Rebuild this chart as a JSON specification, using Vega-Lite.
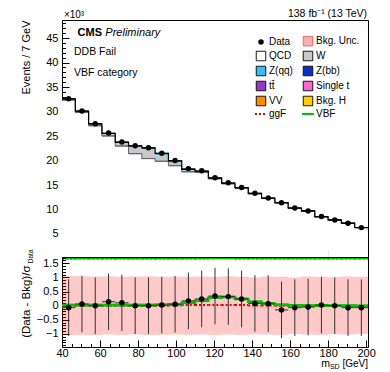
{
  "$schema": "https://vega.github.io/schema/vega-lite/v6.json",
  "autosize": {"type": "pad"},
  "padding": {"left": 19, "top": 8, "right": 5, "bottom": 0},
  "spacing": 0,
  "bounds": "flush",
  "config": {
    "font": "Liberation Sans",
    "view": {"stroke": "#000000", "strokeWidth": 1},
    "axis": {
      "grid": false,
      "domain": false,
      "labelFont": "Liberation Sans",
      "labelFontSize": 11,
      "labelColor": "#000000",
      "tickColor": "#000000",
      "tickWidth": 1,
      "titleFont": "Liberation Sans",
      "titleFontWeight": "normal",
      "titleFontSize": 11,
      "titleColor": "#000000",
      "labelOverlap": false,
      "labelFlush": false,
      "labelBound": false
    },
    "text": {"font": "Liberation Sans", "color": "#000000"}
  },
  "datasets": {
    "bins": [
      {"lo": 40, "hi": 47, "c": 43.5, "data": 32.6, "pull": -0.07, "err": 1, "unc_lo": -1.04, "unc_hi": 1.05, "vbf": 0.02, "ggf": 0.0, "vbf_k": 0.02, "ggf_k": 0.01},
      {"lo": 47, "hi": 54, "c": 50.5, "data": 30.1, "pull": 0.06, "err": 1, "unc_lo": -1.03, "unc_hi": 1.04, "vbf": 0.02, "ggf": 0.0, "vbf_k": 0.02, "ggf_k": 0.01},
      {"lo": 54, "hi": 61, "c": 57.5, "data": 27.5, "pull": 0.0, "err": 1, "unc_lo": -1.04, "unc_hi": 1.03, "vbf": 0.02, "ggf": 0.0, "vbf_k": 0.02, "ggf_k": 0.01},
      {"lo": 61, "hi": 68, "c": 64.5, "data": 25.6, "pull": 0.14, "err": 1, "unc_lo": -1.02, "unc_hi": 1.04, "vbf": 0.02, "ggf": 0.0, "vbf_k": 0.02, "ggf_k": 0.01},
      {"lo": 68, "hi": 75, "c": 71.5, "data": 23.8, "pull": 0.1, "err": 1, "unc_lo": -1.03, "unc_hi": 1.02, "vbf": 0.02, "ggf": 0.0, "vbf_k": 0.02, "ggf_k": 0.01},
      {"lo": 75, "hi": 82, "c": 78.5, "data": 23.0, "pull": 0.0, "err": 1, "unc_lo": -1.02, "unc_hi": 1.03, "vbf": 0.02, "ggf": 0.0, "vbf_k": 0.02, "ggf_k": 0.01},
      {"lo": 82, "hi": 89, "c": 85.5, "data": 22.6, "pull": 0.0, "err": 1, "unc_lo": -1.04, "unc_hi": 1.04, "vbf": 0.02, "ggf": 0.0, "vbf_k": 0.02, "ggf_k": 0.01},
      {"lo": 89, "hi": 96, "c": 92.5, "data": 21.5, "pull": 0.02, "err": 1, "unc_lo": -1.03, "unc_hi": 1.02, "vbf": 0.03, "ggf": 0.0, "vbf_k": 0.02, "ggf_k": 0.01},
      {"lo": 96, "hi": 103, "c": 99.5, "data": 20.0, "pull": 0.05, "err": 1, "unc_lo": -1.02, "unc_hi": 1.03, "vbf": 0.05, "ggf": 0.01, "vbf_k": 0.03, "ggf_k": 0.01},
      {"lo": 103, "hi": 110, "c": 106.5, "data": 18.35, "pull": 0.17, "err": 1, "unc_lo": -1.03, "unc_hi": 1.02, "vbf": 0.1, "ggf": 0.02, "vbf_k": 0.04, "ggf_k": 0.01},
      {"lo": 110, "hi": 117, "c": 113.5, "data": 17.9, "pull": 0.24, "err": 1, "unc_lo": -1.02, "unc_hi": 1.03, "vbf": 0.17, "ggf": 0.02, "vbf_k": 0.05, "ggf_k": 0.01},
      {"lo": 117, "hi": 124, "c": 120.5, "data": 16.5, "pull": 0.34, "err": 1, "unc_lo": -1.04, "unc_hi": 1.02, "vbf": 0.28, "ggf": 0.02, "vbf_k": 0.06, "ggf_k": 0.02},
      {"lo": 124, "hi": 131, "c": 127.5, "data": 15.45, "pull": 0.32, "err": 1, "unc_lo": -1.02, "unc_hi": 1.04, "vbf": 0.31, "ggf": 0.02, "vbf_k": 0.06, "ggf_k": 0.02},
      {"lo": 131, "hi": 138, "c": 134.5, "data": 14.5, "pull": 0.24, "err": 1, "unc_lo": -1.03, "unc_hi": 1.02, "vbf": 0.24, "ggf": 0.02, "vbf_k": 0.05, "ggf_k": 0.01},
      {"lo": 138, "hi": 145, "c": 141.5, "data": 13.3, "pull": 0.08, "err": 1, "unc_lo": -1.01, "unc_hi": 1.0, "vbf": 0.14, "ggf": 0.01, "vbf_k": 0.04, "ggf_k": 0.01},
      {"lo": 145, "hi": 152, "c": 148.5, "data": 12.35, "pull": 0.07, "err": 1, "unc_lo": -1.02, "unc_hi": 1.03, "vbf": 0.08, "ggf": 0.01, "vbf_k": 0.03, "ggf_k": 0.01},
      {"lo": 152, "hi": 159, "c": 155.5, "data": 11.4, "pull": -0.15, "err": 1, "unc_lo": -1.03, "unc_hi": 1.02, "vbf": 0.03, "ggf": 0.0, "vbf_k": 0.02, "ggf_k": 0.01},
      {"lo": 159, "hi": 166, "c": 162.5, "data": 10.3, "pull": -0.07, "err": 1, "unc_lo": -1.0, "unc_hi": 1.0, "vbf": 0.01, "ggf": 0.0, "vbf_k": 0.02, "ggf_k": 0.01},
      {"lo": 166, "hi": 173, "c": 169.5, "data": 9.7, "pull": -0.05, "err": 1, "unc_lo": -1.02, "unc_hi": 1.03, "vbf": 0.0, "ggf": 0.0, "vbf_k": 0.02, "ggf_k": 0.01},
      {"lo": 173, "hi": 180, "c": 176.5, "data": 8.55, "pull": 0.02, "err": 1, "unc_lo": -1.03, "unc_hi": 1.02, "vbf": 0.0, "ggf": 0.0, "vbf_k": 0.02, "ggf_k": 0.01},
      {"lo": 180, "hi": 187, "c": 183.5, "data": 7.87, "pull": 0.0, "err": 1, "unc_lo": -1.01, "unc_hi": 1.01, "vbf": 0.0, "ggf": 0.0, "vbf_k": 0.02, "ggf_k": 0.01},
      {"lo": 187, "hi": 194, "c": 190.5, "data": 7.2, "pull": -0.07, "err": 1, "unc_lo": -1.02, "unc_hi": 1.03, "vbf": 0.0, "ggf": 0.0, "vbf_k": 0.02, "ggf_k": 0.01},
      {"lo": 194, "hi": 201, "c": 197.5, "data": 6.3, "pull": -0.07, "err": 1, "unc_lo": -1.0, "unc_hi": 1.02, "vbf": 0.0, "ggf": 0.0, "vbf_k": 0.02, "ggf_k": 0.01}
    ],
    "stack": [
      {"lo": 40, "hi": 47, "process": "QCD", "v": 32.35}, {"lo": 40, "hi": 47, "process": "W", "v": 0.2}, {"lo": 40, "hi": 47, "process": "Z(qq)", "v": 0.05},
      {"lo": 47, "hi": 54, "process": "QCD", "v": 29.8}, {"lo": 47, "hi": 54, "process": "W", "v": 0.25}, {"lo": 47, "hi": 54, "process": "Z(qq)", "v": 0.05},
      {"lo": 54, "hi": 61, "process": "QCD", "v": 27.1}, {"lo": 54, "hi": 61, "process": "W", "v": 0.35}, {"lo": 54, "hi": 61, "process": "Z(qq)", "v": 0.05},
      {"lo": 61, "hi": 68, "process": "QCD", "v": 25.02}, {"lo": 61, "hi": 68, "process": "W", "v": 0.45}, {"lo": 61, "hi": 68, "process": "Z(qq)", "v": 0.08},
      {"lo": 68, "hi": 75, "process": "QCD", "v": 22.95}, {"lo": 68, "hi": 75, "process": "W", "v": 0.7}, {"lo": 68, "hi": 75, "process": "Z(qq)", "v": 0.1},
      {"lo": 75, "hi": 82, "process": "QCD", "v": 21.4}, {"lo": 75, "hi": 82, "process": "W", "v": 1.45}, {"lo": 75, "hi": 82, "process": "Z(qq)", "v": 0.15},
      {"lo": 82, "hi": 89, "process": "QCD", "v": 20.4}, {"lo": 82, "hi": 89, "process": "W", "v": 1.9}, {"lo": 82, "hi": 89, "process": "Z(qq)", "v": 0.3},
      {"lo": 89, "hi": 96, "process": "QCD", "v": 19.85}, {"lo": 89, "hi": 96, "process": "W", "v": 1.25}, {"lo": 89, "hi": 96, "process": "Z(qq)", "v": 0.35},
      {"lo": 96, "hi": 103, "process": "QCD", "v": 18.95}, {"lo": 96, "hi": 103, "process": "W", "v": 0.65}, {"lo": 96, "hi": 103, "process": "Z(qq)", "v": 0.35},
      {"lo": 103, "hi": 110, "process": "QCD", "v": 17.7}, {"lo": 103, "hi": 110, "process": "W", "v": 0.3}, {"lo": 103, "hi": 110, "process": "Z(qq)", "v": 0.25},
      {"lo": 110, "hi": 117, "process": "QCD", "v": 17.55}, {"lo": 110, "hi": 117, "process": "W", "v": 0.2}, {"lo": 110, "hi": 117, "process": "Z(qq)", "v": 0.08},
      {"lo": 117, "hi": 124, "process": "QCD", "v": 16.27}, {"lo": 117, "hi": 124, "process": "W", "v": 0.13}, {"lo": 117, "hi": 124, "process": "Z(qq)", "v": 0.04},
      {"lo": 124, "hi": 131, "process": "QCD", "v": 15.25}, {"lo": 124, "hi": 131, "process": "W", "v": 0.11}, {"lo": 124, "hi": 131, "process": "Z(qq)", "v": 0.03},
      {"lo": 131, "hi": 138, "process": "QCD", "v": 14.34}, {"lo": 131, "hi": 138, "process": "W", "v": 0.1}, {"lo": 131, "hi": 138, "process": "Z(qq)", "v": 0.03},
      {"lo": 138, "hi": 145, "process": "QCD", "v": 13.18}, {"lo": 138, "hi": 145, "process": "W", "v": 0.09}, {"lo": 138, "hi": 145, "process": "Z(qq)", "v": 0.02},
      {"lo": 145, "hi": 152, "process": "QCD", "v": 12.24}, {"lo": 145, "hi": 152, "process": "W", "v": 0.08}, {"lo": 145, "hi": 152, "process": "Z(qq)", "v": 0.02},
      {"lo": 152, "hi": 159, "process": "QCD", "v": 11.33}, {"lo": 152, "hi": 159, "process": "W", "v": 0.07}, {"lo": 152, "hi": 159, "process": "Z(qq)", "v": 0.02},
      {"lo": 159, "hi": 166, "process": "QCD", "v": 10.23}, {"lo": 159, "hi": 166, "process": "W", "v": 0.06}, {"lo": 159, "hi": 166, "process": "Z(qq)", "v": 0.02},
      {"lo": 166, "hi": 173, "process": "QCD", "v": 9.64}, {"lo": 166, "hi": 173, "process": "W", "v": 0.05}, {"lo": 166, "hi": 173, "process": "Z(qq)", "v": 0.02},
      {"lo": 173, "hi": 180, "process": "QCD", "v": 8.49}, {"lo": 173, "hi": 180, "process": "W", "v": 0.05}, {"lo": 173, "hi": 180, "process": "Z(qq)", "v": 0.01},
      {"lo": 180, "hi": 187, "process": "QCD", "v": 7.82}, {"lo": 180, "hi": 187, "process": "W", "v": 0.04}, {"lo": 180, "hi": 187, "process": "Z(qq)", "v": 0.01},
      {"lo": 187, "hi": 194, "process": "QCD", "v": 7.16}, {"lo": 187, "hi": 194, "process": "W", "v": 0.04}, {"lo": 187, "hi": 194, "process": "Z(qq)", "v": 0.01},
      {"lo": 194, "hi": 201, "process": "QCD", "v": 6.26}, {"lo": 194, "hi": 201, "process": "W", "v": 0.04}, {"lo": 194, "hi": 201, "process": "Z(qq)", "v": 0.01}
    ]
  },
  "vconcat": [
    {
      "width": 306,
      "height": 237,
      "resolve": {"axis": {"x": "independent", "y": "independent"}},
      "layer": [
        {
          "layer": [
            {
              "data": {"name": "stack"},
              "transform": [
                {"stack": "v", "groupby": ["lo"], "sort": [{"field": "process", "order": "ascending"}], "as": ["y0", "y1"]}
              ],
              "mark": {"type": "bar", "clip": true},
              "encoding": {
                "x": {
                  "field": "lo", "type": "quantitative",
                  "scale": {"domain": [40, 201], "nice": false, "zero": false},
                  "axis": {"title": null, "labels": false, "values": [40, 60, 80, 100, 120, 140, 160, 180, 200], "tickCount": 1000, "tickSize": -7, "labelOverlap": false}
                },
                "x2": {"field": "hi"},
                "y": {
                  "field": "y0", "type": "quantitative",
                  "scale": {"domain": [0.3, 48.7], "nice": false, "zero": false},
                  "axis": {
                    "title": "Events / 7 GeV", "titleAnchor": "end", "titleX": -31, "titleY": 0,
                    "values": [5, 10, 15, 20, 25, 30, 35, 40, 45], "tickCount": 1000,
                    "format": "~f", "labelPadding": 11, "tickSize": -7, "labelOverlap": false
                  }
                },
                "y2": {"field": "y1"},
                "color": {
                  "field": "process", "type": "nominal",
                  "scale": {
                    "domain": ["Data", "QCD", "Z(qq)", "tt̄", "VV", "ggF", "Bkg. Unc.", "W", "Z(bb)", "Single t", "Bkg. H", "VBF"],
                    "range": ["#000000", "#ffffff", "#3bbdf0", "#9a35c8", "#ff8c00", "#e00000", "#f7b3b3", "#c8c8c8", "#0a2fc8", "#ff66cc", "#ffcc00", "#00c000"]
                  },
                  "legend": {
                    "title": null,
                    "orient": "none",
                    "legendX": 194,
                    "legendY": 16,
                    "columns": 2,
                    "columnPadding": 5,
                    "rowPadding": 1,
                    "symbolSize": 90,
                    "symbolType": "square",
                    "labelFont": "Liberation Sans",
                    "labelFontSize": 10,
                    "labelColor": "#000000",
                    "labelOffset": 3,
                    "symbolStrokeColor": "#000000",
                    "symbolStrokeWidth": 1,
                    "encode": {
                      "symbols": {
                        "update": {
                          "shape": {"signal": "datum.value === 'Data' ? 'circle' : (datum.value === 'ggF' || datum.value === 'VBF') ? 'stroke' : 'square'"},
                          "size": {"signal": "datum.value === 'Data' ? 30 : (datum.value === 'ggF' || datum.value === 'VBF') ? 144 : 90"},
                          "stroke": {"signal": "datum.value === 'ggF' ? '#e00000' : datum.value === 'VBF' ? '#00c000' : datum.value === 'Bkg. Unc.' ? '#ff5050' : '#000000'"},
                          "strokeWidth": {"signal": "(datum.value === 'ggF' || datum.value === 'VBF') ? 2 : datum.value === 'Data' ? 0 : 1"},
                          "strokeDash": {"signal": "datum.value === 'ggF' ? [2, 2] : [1, 0]"}
                        }
                      }
                    }
                  }
                }
              }
            },
            {
              "data": {"name": "stack"},
              "transform": [{"filter": "datum.process === 'QCD'"}],
              "layer": [
                {"mark": {"type": "rule", "color": "#666666", "strokeWidth": 1}, "encoding": {"x": {"field": "lo", "type": "quantitative"}, "x2": {"field": "hi"}, "y": {"field": "v", "type": "quantitative"}}},
                {"mark": {"type": "line", "interpolate": "step-after", "color": "#666666", "strokeWidth": 1}, "encoding": {"x": {"field": "lo", "type": "quantitative"}, "y": {"field": "v", "type": "quantitative"}}}
              ]
            },
            {
              "data": {"name": "stack"},
              "transform": [{"aggregate": [{"op": "sum", "field": "v", "as": "total"}], "groupby": ["lo", "hi"]}],
              "layer": [
                {"mark": {"type": "rule", "color": "#000000", "strokeWidth": 1.2}, "encoding": {"x": {"field": "lo", "type": "quantitative"}, "x2": {"field": "hi"}, "y": {"field": "total", "type": "quantitative"}}},
                {"mark": {"type": "line", "interpolate": "step-after", "color": "#000000", "strokeWidth": 1.2}, "encoding": {"x": {"field": "lo", "type": "quantitative"}, "y": {"field": "total", "type": "quantitative"}}}
              ]
            },
            {
              "data": {"name": "bins"},
              "mark": {"type": "rule", "color": "#e00000", "strokeWidth": 2, "strokeDash": [2, 2]},
              "encoding": {"x": {"field": "lo", "type": "quantitative"}, "x2": {"field": "hi"}, "y": {"field": "ggf_k", "type": "quantitative"}}
            },
            {
              "data": {"name": "bins"},
              "mark": {"type": "rule", "color": "#00c000", "strokeWidth": 2},
              "encoding": {"x": {"field": "lo", "type": "quantitative"}, "x2": {"field": "hi"}, "y": {"field": "vbf_k", "type": "quantitative"}}
            },
            {
              "data": {"values": [{}]},
              "layer": [
                {"mark": {"type": "text", "text": "×10³", "fontSize": 10, "align": "left", "baseline": "alphabetic"}, "encoding": {"x": {"datum": 41}, "y": {"datum": 49.2}}},
                {"mark": {"type": "text", "text": "138 fb⁻¹ (13 TeV)", "fontSize": 10.5, "align": "right", "baseline": "alphabetic"}, "encoding": {"x": {"datum": 200.5}, "y": {"datum": 49.4}}},
                {"mark": {"type": "text", "text": "CMS", "fontSize": 11, "fontWeight": "bold", "align": "left", "baseline": "middle"}, "encoding": {"x": {"datum": 48.2}, "y": {"datum": 46.0}}},
                {"mark": {"type": "text", "text": "Preliminary", "fontSize": 11, "fontStyle": "italic", "align": "left", "baseline": "middle"}, "encoding": {"x": {"datum": 62.8}, "y": {"datum": 46.0}}},
                {"mark": {"type": "text", "text": "DDB Fail", "fontSize": 10.5, "align": "left", "baseline": "middle"}, "encoding": {"x": {"datum": 46.3}, "y": {"datum": 42.2}}},
                {"mark": {"type": "text", "text": "VBF category", "fontSize": 10.5, "align": "left", "baseline": "middle"}, "encoding": {"x": {"datum": 46.3}, "y": {"datum": 37.9}}}
              ]
            }
          ]
        },
        {
          "data": {"name": "bins"},
          "mark": {"type": "circle", "color": "#000000", "size": 30, "opacity": 1},
          "encoding": {
            "x": {
              "field": "c", "type": "quantitative",
              "axis": {"title": null, "labels": false, "tickSize": -3.5, "tickCount": 1000, "labelOverlap": false, "orient": "bottom",
                "values": [45, 50, 55, 65, 70, 75, 85, 90, 95, 105, 110, 115, 125, 130, 135, 145, 150, 155, 165, 170, 175, 185, 190, 195]}
            },
            "y": {
              "field": "data", "type": "quantitative",
              "axis": {"title": null, "labels": false, "tickSize": -3.5, "tickCount": 1000, "labelOverlap": false, "orient": "left",
                "values": [1, 2, 3, 4, 6, 7, 8, 9, 11, 12, 13, 14, 16, 17, 18, 19, 21, 22, 23, 24, 26, 27, 28, 29, 31, 32, 33, 34, 36, 37, 38, 39, 41, 42, 43, 44, 46, 47, 48]}
            }
          }
        }
      ]
    },
    {
      "width": 306,
      "height": 90,
      "resolve": {"axis": {"x": "independent", "y": "independent"}},
      "layer": [
        {
          "layer": [
            {
              "data": {"name": "bins"},
              "mark": {"type": "rect", "color": "#ff0000", "opacity": 0.21},
              "encoding": {
                "x": {
                  "field": "lo", "type": "quantitative",
                  "scale": {"domain": [40, 201], "nice": false, "zero": false},
                  "axis": {"title": null, "values": [40, 60, 80, 100, 120, 140, 160, 180, 200], "tickCount": 1000, "format": "~f", "labelPadding": 7, "tickSize": -7, "labelOverlap": false}
                },
                "x2": {"field": "hi"},
                "y": {
                  "field": "unc_lo", "type": "quantitative",
                  "scale": {"domain": [-1.46, 1.72], "nice": false, "zero": false},
                  "axis": {
                    "title": "(Data - Bkg)/σ", "titleAnchor": "end", "titleX": -31, "titleY": 8, "titleFontSize": 11.5,
                    "values": [-1, -0.5, 0, 0.5, 1, 1.5], "tickCount": 1000,
                    "format": "~f", "labelPadding": 11, "tickSize": -7, "labelOverlap": false
                  }
                },
                "y2": {"field": "unc_hi"}
              }
            },
            {
              "data": {"name": "bins"},
              "layer": [
                {"mark": {"type": "rule", "color": "#e00000", "strokeWidth": 2, "strokeDash": [2, 2]}, "encoding": {"x": {"field": "lo", "type": "quantitative"}, "x2": {"field": "hi"}, "y": {"field": "ggf", "type": "quantitative"}}},
                {"mark": {"type": "rule", "color": "#00c000", "strokeWidth": 2.5}, "encoding": {"x": {"field": "lo", "type": "quantitative"}, "x2": {"field": "hi"}, "y": {"field": "vbf", "type": "quantitative"}}},
                {"mark": {"type": "line", "interpolate": "step-after", "color": "#00c000", "strokeWidth": 2.5}, "encoding": {"x": {"field": "lo", "type": "quantitative"}, "y": {"field": "vbf", "type": "quantitative"}}},
                {"mark": {"type": "errorbar", "ticks": false, "color": "#333333", "thickness": 1}, "encoding": {"x": {"field": "c", "type": "quantitative"}, "y": {"field": "pull", "type": "quantitative", "title": "(Data - Bkg)/σ"}, "yError": {"field": "err"}}},
                {"mark": {"type": "rule", "color": "#333333", "strokeWidth": 1}, "encoding": {"x": {"field": "lo", "type": "quantitative"}, "x2": {"field": "hi"}, "y": {"field": "pull", "type": "quantitative"}}}
              ]
            },
            {
              "data": {"values": [{}]},
              "layer": [
                {"mark": {"type": "text", "text": "Data", "fontSize": 6.5, "angle": 270, "align": "left", "baseline": "bottom"}, "encoding": {"x": {"datum": 25.3}, "y": {"datum": 1.5}}},
                {"mark": {"type": "text", "text": "[GeV]", "fontSize": 10, "align": "right", "baseline": "alphabetic"}, "encoding": {"x": {"datum": 201}, "y": {"datum": -2.17}}},
                {"mark": {"type": "text", "text": "SD", "fontSize": 7, "align": "right", "baseline": "alphabetic"}, "encoding": {"x": {"datum": 186.1}, "y": {"datum": -2.24}}},
                {"mark": {"type": "text", "text": "m", "fontSize": 10.5, "align": "right", "baseline": "alphabetic"}, "encoding": {"x": {"datum": 181.05}, "y": {"datum": -2.17}}}
              ]
            }
          ]
        },
        {
          "data": {"name": "bins"},
          "mark": {"type": "circle", "color": "#000000", "size": 30, "opacity": 1},
          "encoding": {
            "x": {
              "field": "c", "type": "quantitative",
              "axis": {"title": null, "labels": false, "tickSize": -3.5, "tickCount": 1000, "labelOverlap": false, "orient": "bottom",
                "values": [45, 50, 55, 65, 70, 75, 85, 90, 95, 105, 110, 115, 125, 130, 135, 145, 150, 155, 165, 170, 175, 185, 190, 195]}
            },
            "y": {
              "field": "pull", "type": "quantitative",
              "axis": {"title": null, "labels": false, "tickSize": -3.5, "tickCount": 1000, "labelOverlap": false, "orient": "left",
                "values": [-1.4, -1.3, -1.2, -1.1, -0.9, -0.8, -0.7, -0.6, -0.4, -0.3, -0.2, -0.1, 0.1, 0.2, 0.3, 0.4, 0.6, 0.7, 0.8, 0.9, 1.1, 1.2, 1.3, 1.4, 1.6, 1.7]}
            }
          }
        }
      ]
    }
  ]
}
